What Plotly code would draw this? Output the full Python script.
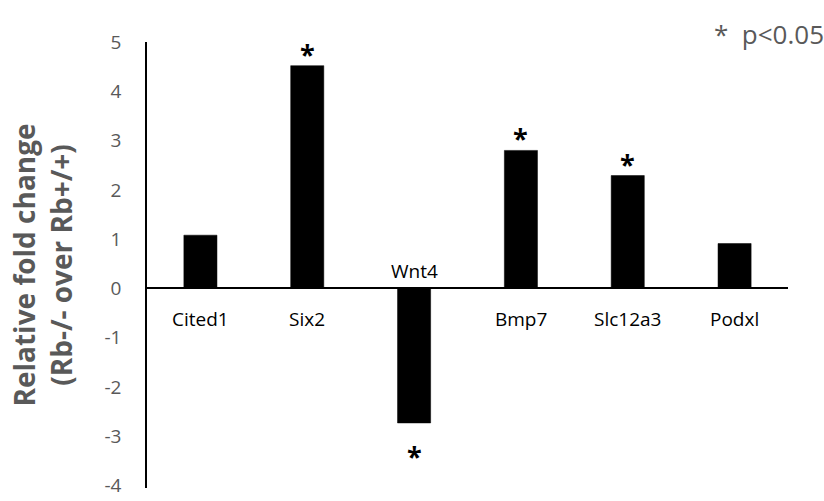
import plotly.graph_objects as go

genes = ["Cited1", "Six2", "Wnt4", "Bmp7", "Slc12a3", "Podxl"]
fold_change = [1.08, 4.52, -2.73, 2.8, 2.29, 0.91]
significant = [False, True, True, True, True, False]
y_ticks = [-4, -3, -2, -1, 0, 1, 2, 3, 4, 5]

GRAY = "#595959"
FONT = "Open Sans"

fig = go.Figure()
fig.add_trace(go.Bar(
    x=genes, y=fold_change,
    marker=dict(color="black", line=dict(color="black", width=0.5)),
    width=0.31, showlegend=False,
))

annotations = []
for g, v, s in zip(genes, fold_change, significant):
    if v >= 0:
        annotations.append(dict(x=g, y=0, xref="x", yref="y", text=g, showarrow=False,
                                yanchor="top", yshift=-16, font=dict(family=FONT, size=19, color="black")))
    else:
        annotations.append(dict(x=g, y=0, xref="x", yref="y", text=g, showarrow=False,
                                yanchor="bottom", yshift=2, font=dict(family=FONT, size=19, color="black")))
    if s:
        if v >= 0:
            annotations.append(dict(x=g, y=v, xref="x", yref="y", text="<b>*</b>", showarrow=False,
                                    yanchor="bottom", yshift=-8, font=dict(family=FONT, size=27, color="black")))
        else:
            annotations.append(dict(x=g, y=v, xref="x", yref="y", text="<b>*</b>", showarrow=False,
                                    yanchor="top", yshift=-12, font=dict(family=FONT, size=27, color="black")))

annotations.append(dict(x=1, y=1, xref="paper", yref="paper", xanchor="right", yanchor="bottom",
                        xshift=38, yshift=-12, text="*&nbsp;&nbsp;p<0.05", showarrow=False,
                        font=dict(family=FONT, size=26, color=GRAY)))

fig.update_layout(
    width=824, height=501,
    paper_bgcolor="white", plot_bgcolor="white",
    margin=dict(l=147, r=36, t=42, b=13, autoexpand=False),
    bargap=0.69,
    annotations=annotations,
    xaxis=dict(showticklabels=False, showgrid=False, showline=False, zeroline=False, ticks=""),
    yaxis=dict(
        range=[-4.05, 5.0], tickvals=y_ticks, ticktext=[str(t) for t in y_ticks],
        showgrid=False, zeroline=True, zerolinecolor="black", zerolinewidth=1.5,
        showline=True, linecolor="black", linewidth=1.5, automargin=False,
        ticks="", ticklabelstandoff=20, ticklabeloverflow="allow",
        tickfont=dict(family=FONT, size=19, color=GRAY),
        title=dict(text="<b>Relative fold change<br>(Rb-/- over Rb+/+)</b>",
                   font=dict(family=FONT, size=28, color=GRAY), standoff=24),
    ),
)

fig.write_html("out.html")
